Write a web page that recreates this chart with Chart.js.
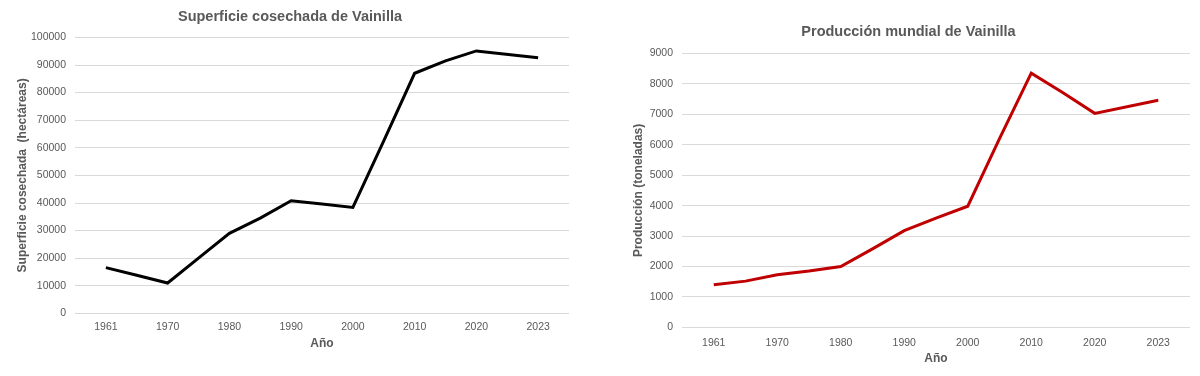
<!DOCTYPE html>
<html>
<head>
<meta charset="utf-8">
<script src="https://cdn.jsdelivr.net/npm/chart.js@4.4.0/dist/chart.umd.min.js"></script>
<style>
  body { margin: 0; background: #fff; }
  .box { position: absolute; top: 0; width: 600px; height: 376px; }
</style>
</head>
<body>
<div class="box" style="left:0"><canvas id="chart1"></canvas></div>
<div class="box" style="left:600px"><canvas id="chart2"></canvas></div>
<script>
// Años del eje X (categorías igualmente espaciadas)
const years = ['1961', '1970', '1980', '1990', '2000', '2010', '2020', '2023'];
// posición de cada punto sobre el eje (incluye puntos intermedios)
const xPos = [0, 0.5, 1, 1.5, 2, 2.5, 3, 3.5, 4, 4.5, 5, 5.5, 6, 7];
// Superficie cosechada (hectáreas)
const superficie = [16600, 13800, 11000, 20000, 29000, 34500, 40800, 39600, 38400, 62500, 87000, 91500, 95100, 92600];
// Producción (toneladas)
const produccion = [1400, 1520, 1730, 1850, 2000, 2580, 3180, 3590, 3980, 6200, 8350, 7710, 7030, 7460];

const gray = '#595959';
Chart.defaults.font.family = '"Liberation Sans", Arial, sans-serif';
Chart.defaults.color = gray;

// Función para crear gráficos
function createChart(chartId, values, title, yTitle, yMax, yStep, color, lay) {
    const ctx = document.getElementById(chartId).getContext('2d');
    new Chart(ctx, {
        type: 'line',
        data: {
            datasets: [{
                data: values.map((v, i) => ({ x: xPos[i], y: v })),
                borderColor: color,
                borderWidth: 3,
                pointRadius: 0,
                tension: 0
            }]
        },
        options: {
            responsive: true,
            maintainAspectRatio: false,
            animation: false,
            layout: { padding: lay.padding },
            plugins: {
                legend: { display: false },
                tooltip: { enabled: false },
                title: {
                    display: true,
                    text: title,
                    color: gray,
                    font: { size: 14.5, weight: 'bold' },
                    padding: { top: 0, bottom: lay.titleGap }
                }
            },
            scales: {
                x: {
                    type: 'linear',
                    min: -0.5,
                    max: 7.5,
                    afterBuildTicks: axis => { axis.ticks = years.map((y, i) => ({ value: i })); },
                    ticks: {
                        callback: v => years[v],
                        color: gray,
                        font: { size: 10.5 },
                        maxRotation: 0,
                        padding: lay.xTickPad
                    },
                    grid: { display: false, drawTicks: false },
                    border: { display: false },
                    title: {
                        display: true,
                        text: 'Año',
                        color: gray,
                        font: { size: 12, weight: 'bold', lineHeight: 1 },
                        padding: { top: lay.xTitlePad, bottom: 0 }
                    }
                },
                y: {
                    min: 0,
                    max: yMax,
                    afterFit: axis => { axis.width = lay.yWidth; },
                    ticks: {
                        stepSize: yStep,
                        color: gray,
                        font: { size: 10.5 },
                        padding: 9,
                        callback: v => String(v)
                    },
                    grid: { color: '#d9d9d9', drawTicks: false },
                    border: { display: false },
                    title: {
                        display: true,
                        text: yTitle,
                        color: gray,
                        font: { size: 12, weight: 'bold' }
                    }
                }
            }
        }
    });
}

createChart('chart1', superficie, 'Superficie cosechada de Vainilla', 'Superficie cosechada  (hectáreas)',
    100000, 10000, '#000000',
    { padding: { top: 8, left: 11, right: 31, bottom: 26 }, titleGap: 12, xTickPad: 7, xTitlePad: -2, yWidth: 64 });
createChart('chart2', produccion, 'Producción mundial de Vainilla', 'Producción (toneladas)',
    9000, 1000, '#c00000',
    { padding: { top: 23, left: 27, right: 10, bottom: 11 }, titleGap: 13, xTickPad: 9, xTitlePad: -5, yWidth: 55 });
</script>
</body>
</html>
